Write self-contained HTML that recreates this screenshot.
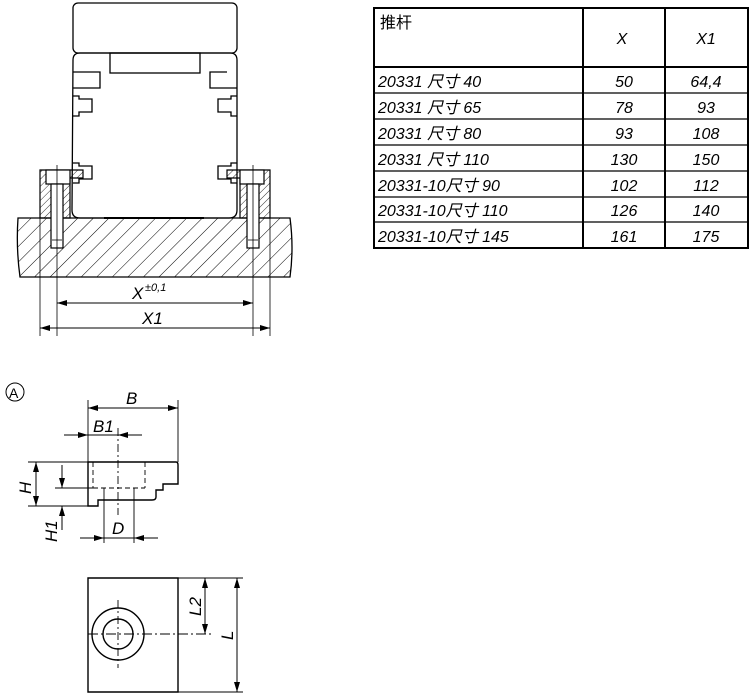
<!DOCTYPE html><html><head><meta charset="utf-8"><style>
body{margin:0;background:#fff;width:750px;height:695px;overflow:hidden}
text{font-family:"Liberation Sans","Noto Sans CJK SC",sans-serif;font-style:italic;fill:#000}
</style></head><body>
<svg width="750" height="695" viewBox="0 0 750 695" xmlns="http://www.w3.org/2000/svg">
<defs>
<pattern id="h" patternUnits="userSpaceOnUse" width="11" height="11" patternTransform="rotate(45)"><line x1="0" y1="0" x2="0" y2="11" stroke="#000" stroke-width="1"/></pattern>
<pattern id="h2" patternUnits="userSpaceOnUse" width="5" height="5" patternTransform="rotate(45)"><line x1="0" y1="0" x2="0" y2="5" stroke="#000" stroke-width="0.8"/></pattern>
<marker id="a" markerWidth="10" markerHeight="6" refX="10" refY="3" orient="auto-start-reverse" markerUnits="userSpaceOnUse"><path d="M0,0L10,3L0,6z" fill="#000"/></marker>
</defs>
<g fill="none" stroke="#000" stroke-width="1.3">
<rect x="73" y="3" width="164" height="50" rx="5"/>
<path d="M73,60 Q73,53 80,53 H230 Q237,53 237,60 V210 Q237,218 229,218 H80 Q72,218 72,210 Z"/>
<rect x="110" y="53" width="90" height="20"/>
<path d="M73,72 H100 V88 H73 M227,72 H210 V88 H237"/>
<path d="M73,96 H79 V99 H92 V112 H79 V116 H73 M237,96 H231 V99 H218 V112 H231 V116 H237"/>
<path d="M73,163 H79 V166 H92 V179 H79 V183 H73 M237,163 H231 V166 H218 V179 H231 V183 H237"/>
</g>
<path d="M18,218 H290 Q294,248 290,277 H20 Q16,248 18,218Z" fill="url(#h)" stroke="#000" stroke-width="1.3"/>
<rect x="104" y="216" width="100" height="3" fill="#fff"/>
<line x1="104" y1="218" x2="204" y2="218" stroke="#000" stroke-width="2"/>
<g stroke="#000" stroke-width="1.2">
<path d="M40,170 H83 V178 H70 V218 H40Z" fill="url(#h2)"/>
<path d="M270,170 H227 V178 H240 V218 H270Z" fill="url(#h2)"/>
<rect x="46" y="170" width="24" height="14" fill="#fff"/>
<rect x="240" y="170" width="24" height="14" fill="#fff"/>
<rect x="51" y="184" width="12" height="64" fill="#fff"/>
<rect x="247" y="184" width="12" height="64" fill="#fff"/>
</g>
<g stroke="#000" stroke-width="0.8" fill="none">
<line x1="57" y1="165" x2="57" y2="336"/><line x1="253" y1="165" x2="253" y2="336"/>
<line x1="40" y1="218" x2="40" y2="336"/><line x1="270" y1="218" x2="270" y2="336"/>
<line x1="52" y1="240" x2="62" y2="240"/><line x1="248" y1="240" x2="258" y2="240"/>
</g>
<g stroke="#000" stroke-width="1">
<line x1="57" y1="303" x2="253" y2="303" marker-start="url(#a)" marker-end="url(#a)"/>
<line x1="40" y1="328" x2="270" y2="328" marker-start="url(#a)" marker-end="url(#a)"/>
</g>
<text x="132" y="299" font-size="17">X</text><text x="145" y="291" font-size="11">±0,1</text>
<text x="142" y="324" font-size="17">X1</text>

<g stroke="#000" stroke-width="2" fill="none">
<rect x="374" y="8" width="374" height="240"/>
<line x1="583" y1="8" x2="583" y2="248"/><line x1="665" y1="8" x2="665" y2="248"/>
<line x1="374" y1="67" x2="748" y2="67"/>
</g>
<g stroke="#000" stroke-width="1.3">
<line x1="374" y1="93" x2="748" y2="93"/><line x1="374" y1="119" x2="748" y2="119"/>
<line x1="374" y1="145" x2="748" y2="145"/><line x1="374" y1="171" x2="748" y2="171"/>
<line x1="374" y1="197" x2="748" y2="197"/><line x1="374" y1="222" x2="748" y2="222"/>
</g>
<g font-size="16">
<text x="380" y="28" style="font-style:normal">推杆</text>
<text x="622" y="44" text-anchor="middle">X</text><text x="706" y="44" text-anchor="middle">X1</text>
<text x="378" y="87">20331 尺寸 40</text><text x="624" y="87" text-anchor="middle">50</text><text x="706" y="87" text-anchor="middle">64,4</text>
<text x="378" y="113">20331 尺寸 65</text><text x="624" y="113" text-anchor="middle">78</text><text x="706" y="113" text-anchor="middle">93</text>
<text x="378" y="139">20331 尺寸 80</text><text x="624" y="139" text-anchor="middle">93</text><text x="706" y="139" text-anchor="middle">108</text>
<text x="378" y="165">20331 尺寸 110</text><text x="624" y="165" text-anchor="middle">130</text><text x="706" y="165" text-anchor="middle">150</text>
<text x="378" y="191">20331-10尺寸 90</text><text x="624" y="191" text-anchor="middle">102</text><text x="706" y="191" text-anchor="middle">112</text>
<text x="378" y="216">20331-10尺寸 110</text><text x="624" y="216" text-anchor="middle">126</text><text x="706" y="216" text-anchor="middle">140</text>
<text x="378" y="242">20331-10尺寸 145</text><text x="624" y="242" text-anchor="middle">161</text><text x="706" y="242" text-anchor="middle">175</text>
</g>

<circle cx="15" cy="392" r="9" fill="none" stroke="#000" stroke-width="1"/>
<text x="9" y="398" font-size="14" style="font-style:normal">A</text>
<g fill="none" stroke="#000" stroke-width="1.4">
<path d="M88,462 H176 Q178,462 178,465 V484 H163 V490 H156 V497 Q156,500 152,500 H98 V506 H88 Z"/>
<path d="M88,578 H178 V692 H88 Z"/>
<circle cx="118" cy="634" r="26"/><circle cx="118" cy="634" r="15"/>
</g>
<g fill="none" stroke="#000" stroke-width="0.9">
<path d="M93,462 V488 M145,462 V488 M93,488 H145" stroke-dasharray="5,3"/>
<line x1="118" y1="428" x2="118" y2="515" stroke-dasharray="8,3,2,3"/>
<line x1="104" y1="488" x2="104" y2="543"/><line x1="134" y1="488" x2="134" y2="543"/>
<line x1="88" y1="400" x2="88" y2="462"/><line x1="178" y1="400" x2="178" y2="462"/>
<line x1="28" y1="462" x2="88" y2="462"/><line x1="28" y1="506" x2="88" y2="506"/>
<line x1="55" y1="488" x2="93" y2="488"/>
<line x1="88" y1="634" x2="212" y2="634" stroke-dasharray="10,3,2,3"/>
<line x1="118" y1="600" x2="118" y2="668" stroke-dasharray="8,3,2,3"/>
<line x1="178" y1="578" x2="243" y2="578"/><line x1="178" y1="692" x2="243" y2="692"/>
</g>
<g stroke="#000" stroke-width="1">
<line x1="88" y1="408" x2="178" y2="408" marker-start="url(#a)" marker-end="url(#a)"/>
<line x1="64" y1="435" x2="88" y2="435" marker-end="url(#a)"/><line x1="142" y1="435" x2="118" y2="435" marker-end="url(#a)"/>
<line x1="88" y1="435" x2="118" y2="435"/>
<line x1="36" y1="462" x2="36" y2="506" marker-start="url(#a)" marker-end="url(#a)"/>
<line x1="62" y1="465" x2="62" y2="488" marker-end="url(#a)"/><line x1="62" y1="530" x2="62" y2="506" marker-end="url(#a)"/>
<line x1="80" y1="538" x2="104" y2="538" marker-end="url(#a)"/><line x1="158" y1="538" x2="134" y2="538" marker-end="url(#a)"/>
<line x1="104" y1="538" x2="134" y2="538"/>
<line x1="205" y1="578" x2="205" y2="634" marker-start="url(#a)" marker-end="url(#a)"/>
<line x1="237" y1="578" x2="237" y2="692" marker-start="url(#a)" marker-end="url(#a)"/>
</g>
<g font-size="17">
<text x="126" y="404">B</text><text x="93" y="432">B1</text>
<text x="112" y="534">D</text>
<text transform="translate(31,494) rotate(-90)">H</text>
<text transform="translate(57,542) rotate(-90)">H1</text>
<text transform="translate(201,616) rotate(-90)">L2</text>
<text transform="translate(233,640) rotate(-90)">L</text>
</g>
</svg>
</body></html>
